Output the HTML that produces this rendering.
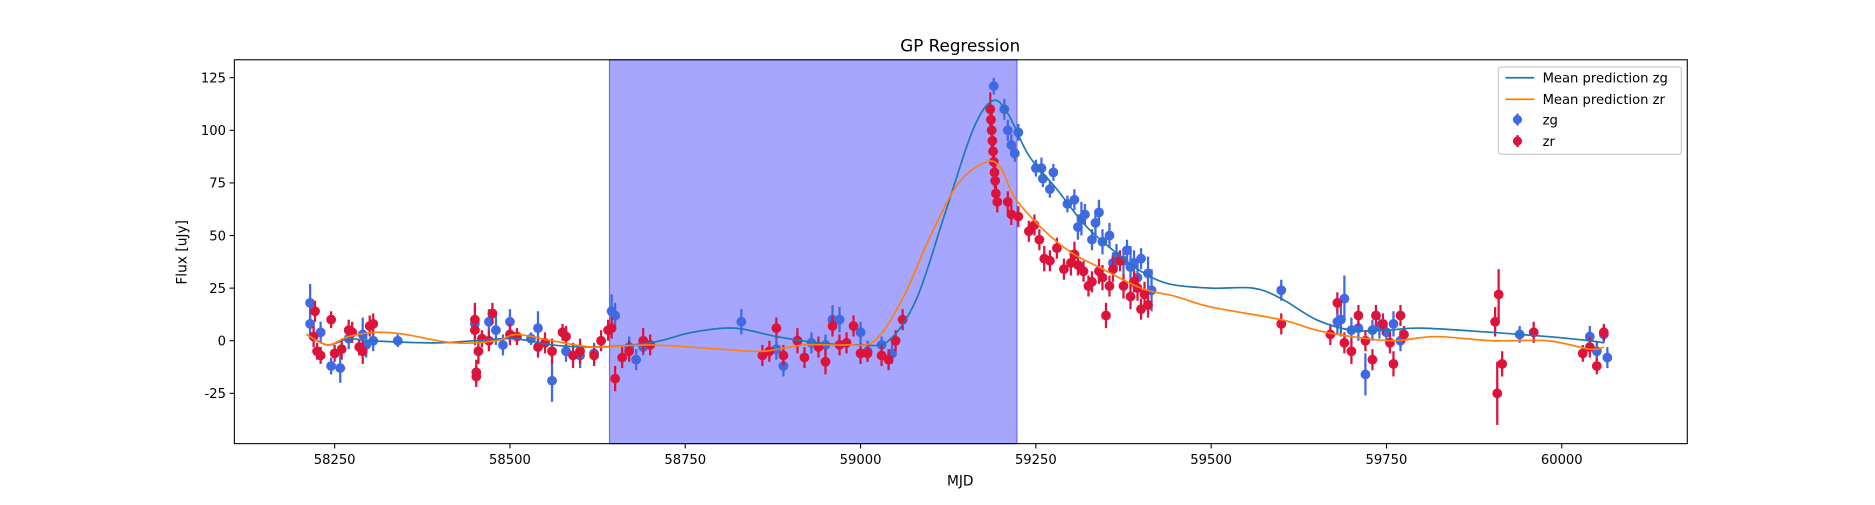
<!DOCTYPE html>
<html><head><meta charset="utf-8"><style>
body{margin:0;background:#fff;font-family:"Liberation Sans","DejaVu Sans",sans-serif;}
svg text{font-family:"DejaVu Sans","Liberation Sans",sans-serif;}
</style></head><body>
<svg id="chart" width="1875" height="500" xmlns="http://www.w3.org/2000/svg">
<rect x="0" y="0" width="1875" height="500" fill="#fff"/>
<g transform="scale(1.1958)">
<g id="plot"></g>
<text x="803" y="43" font-size="14" text-anchor="middle">GP Regression</text>
<text x="803" y="406" font-size="11.5" text-anchor="middle">MJD</text>
<text transform="translate(156,211) rotate(-90)" font-size="11.5" text-anchor="middle">Flux [uJy]</text>
<g>
<rect x="1253" y="56" width="153" height="73" fill="#fff" fill-opacity="0.8" stroke="#ccc" rx="2"/>
<g><line x1="1259" y1="65" x2="1283" y2="65" stroke="#1f77b4" stroke-width="1.5"/><text x="1290" y="69" font-size="11">Mean prediction zg</text></g>
<g><line x1="1259" y1="83" x2="1283" y2="83" stroke="#ff7f0e" stroke-width="1.5"/><text x="1290" y="87" font-size="11">Mean prediction zr</text></g>
<g><line x1="1269" y1="95" x2="1269" y2="105" stroke="#4169e1" stroke-width="2"/><circle cx="1269" cy="100" r="3.8" fill="#4169e1"/><text x="1290" y="104" font-size="11">zg</text></g>
<g><line x1="1269" y1="113" x2="1269" y2="123" stroke="#dc143c" stroke-width="2"/><circle cx="1269" cy="118" r="3.8" fill="#dc143c"/><text x="1290" y="122" font-size="11">zr</text></g>
</g>
</g>
</svg>
<script>
const xTicks=[58250,58500,58750,59000,59250,59500,59750,60000];
const yTicks=[-25,0,25,50,75,100,125];
const spanRange=[58642,59223];
const zgMean=[[58210,3],[58240,-2],[58270,1],[58300,0],[58400,-1],[58500,1],[58560,-2],[58620,-3],[58700,-1],[58760,4],[58820,6],[58880,2],[58940,-1],[59000,-2],[59040,0],[59080,20],[59120,60],[59160,100],[59188,114],[59210,108],[59240,88],[59280,72],[59320,55],[59360,43],[59400,33],[59440,27],[59500,25],[59560,25],[59600,20],[59650,10],[59700,5],[59750,5],[59800,6],[59900,4],[59980,2],[60040,0],[60060,-1]];
const zrMean=[[58210,3],[58240,-2],[58270,2],[58310,4],[58350,3],[58420,-1],[58480,0],[58510,3],[58560,0],[58620,-3],[58700,-2],[58800,-4],[58860,-5],[58920,-2],[58980,-2],[59020,0],[59060,20],[59100,50],[59140,75],[59180,85],[59200,82],[59220,68],[59260,53],[59300,42],[59340,35],[59400,25],[59450,21],[59500,16],[59600,10],[59650,5],[59700,2],[59760,0],[59820,2],[59900,0],[59980,0],[60040,-4],[60060,-3]];
const zgPts=[[58215,18,9],[58215,8,6],[58230,4,5],[58245,-12,4],[58258,-13,7],[58270,1,5],[58290,3,8],[58295,-2,6],[58305,0,5],[58340,0,3],[58450,8,8],[58470,9,6],[58480,5,7],[58490,-2,5],[58500,9,6],[58530,1,3],[58540,6,8],[58560,-19,10],[58580,-5,5],[58600,-7,6],[58620,-6,5],[58645,14,8],[58650,12,6],[58670,-3,5],[58680,-9,5],[58690,-3,4],[58830,9,6],[58880,-4,5],[58890,-12,5],[58910,0,4],[58930,-1,5],[58950,-2,5],[58960,10,7],[58970,10,6],[59000,4,5],[59010,-5,5],[59030,-2,4],[59045,-6,5],[59190,121,4],[59205,110,5],[59210,100,5],[59215,93,5],[59220,89,4],[59225,99,4],[59250,82,4],[59258,82,5],[59260,77,4],[59270,72,4],[59275,80,4],[59295,65,4],[59305,67,5],[59310,54,6],[59315,58,8],[59320,60,5],[59330,48,5],[59335,56,6],[59340,61,6],[59345,47,6],[59355,50,6],[59360,37,5],[59365,40,6],[59375,38,6],[59380,43,5],[59385,35,10],[59390,37,6],[59395,30,6],[59400,39,5],[59410,32,8],[59415,24,10],[59600,24,5],[59680,9,6],[59685,10,8],[59690,20,11],[59700,5,6],[59710,6,6],[59720,-16,10],[59730,5,5],[59740,7,6],[59750,4,4],[59760,8,6],[59770,0,5],[59940,3,4],[60040,2,5],[60050,-5,5],[60060,3,4],[60065,-8,5]];
const zrPts=[[58220,2,5],[58222,14,5],[58225,-5,4],[58230,-7,4],[58245,10,4],[58250,-6,4],[58260,-4,5],[58270,5,5],[58275,4,5],[58285,-3,4],[58290,-5,6],[58300,7,5],[58305,8,5],[58450,10,8],[58450,5,7],[58452,-15,6],[58452,-17,5],[58455,-5,6],[58460,1,4],[58470,0,5],[58475,13,5],[58500,3,5],[58510,2,4],[58540,-3,5],[58550,-1,5],[58560,-5,6],[58575,4,4],[58580,2,5],[58590,-7,6],[58600,-5,6],[58620,-7,5],[58630,0,5],[58640,5,5],[58645,6,5],[58650,-18,6],[58660,-8,5],[58670,-5,5],[58690,0,6],[58700,-2,5],[58860,-7,5],[58870,-5,5],[58880,6,5],[58890,-7,5],[58910,0,6],[58920,-8,5],[58940,-3,5],[58950,-10,6],[58960,7,5],[58970,-2,5],[58980,-1,5],[58990,7,5],[59000,-6,5],[59010,-6,4],[59030,-7,5],[59040,-9,5],[59050,0,5],[59060,10,5],[59185,110,8],[59186,105,7],[59187,100,10],[59188,95,7],[59189,90,6],[59190,85,6],[59191,80,7],[59192,76,7],[59193,70,6],[59195,66,5],[59210,66,5],[59215,60,5],[59225,59,5],[59240,52,5],[59248,55,5],[59255,48,5],[59262,39,6],[59270,38,5],[59280,44,5],[59290,34,5],[59300,37,6],[59305,41,6],[59310,36,5],[59318,33,5],[59325,26,5],[59330,28,5],[59340,33,6],[59345,30,6],[59350,12,6],[59355,26,5],[59360,34,6],[59370,38,5],[59375,26,6],[59385,21,6],[59390,28,5],[59395,25,6],[59400,15,5],[59405,22,6],[59410,17,6],[59600,8,5],[59670,3,5],[59680,18,5],[59690,-1,5],[59700,-5,6],[59710,12,5],[59720,0,5],[59730,-9,5],[59735,12,5],[59745,8,5],[59755,-1,5],[59760,-11,6],[59770,12,5],[59775,3,4],[59905,9,7],[59908,-25,15],[59910,22,12],[59915,-11,6],[59960,4,5],[60030,-6,4],[60050,-12,4],[60060,4,4],[60040,-3,5]];

const L=196,R=1411,T=50,B=371;
const xMin=58107,xMax=60179,yMin=-48.9,yMax=133.5;
const sx=v=>L+(v-xMin)/(xMax-xMin)*(R-L);
const sy=v=>B-(v-yMin)/(yMax-yMin)*(B-T);
const NS='http://www.w3.org/2000/svg';
const g=document.getElementById('plot');
function mk(t,a,p){const e=document.createElementNS(NS,t);for(const k in a)e.setAttribute(k,a[k]);(p||g).appendChild(e);return e;}

const span=mk('rect',{x:sx(spanRange[0]),y:T,width:sx(spanRange[1])-sx(spanRange[0]),height:B-T,fill:'#a6a6ff',stroke:'#6b6bf0','stroke-width':1});



function smooth(pts){
  const P=pts.map(p=>[sx(p[0]),sy(p[1])]);
  let d='M'+P[0][0]+','+P[0][1];
  for(let i=0;i<P.length-1;i++){
    const p0=P[Math.max(0,i-1)],p1=P[i],p2=P[i+1],p3=P[Math.min(P.length-1,i+2)];
    const c1=[p1[0]+(p2[0]-p0[0])/6,p1[1]+(p2[1]-p0[1])/6];
    const c2=[p2[0]-(p3[0]-p1[0])/6,p2[1]-(p3[1]-p1[1])/6];
    d+=' C'+c1[0]+','+c1[1]+' '+c2[0]+','+c2[1]+' '+p2[0]+','+p2[1];
  }
  return d;
}
function points(arr,color,name){
  const grp=mk('g',{});
  
  
  arr.forEach(p=>{
    mk('line',{x1:sx(p[0]),x2:sx(p[0]),y1:sy(p[1]-p[2]),y2:sy(p[1]+p[2]),stroke:color,'stroke-width':1.9},grp);
    const c=mk('circle',{cx:sx(p[0]),cy:sy(p[1]),r:4.1,fill:color},grp);
    
    
  });
}
points(zgPts,'#4169e1','zg-points');
points(zrPts,'#dc143c','zr-points');
const l1=mk('path',{d:smooth(zgMean),fill:'none',stroke:'#1f77b4','stroke-width':1.4});


const l2=mk('path',{d:smooth(zrMean),fill:'none',stroke:'#ff7f0e','stroke-width':1.4});



const fr=mk('rect',{x:L,y:T,width:R-L,height:B-T,fill:'none',stroke:'#000','stroke-width':0.9});


xTicks.forEach(v=>{
  mk('line',{x1:sx(v),x2:sx(v),y1:B,y2:B+4,stroke:'#000','stroke-width':0.9});
  const t=mk('text',{x:sx(v),y:B+17,'font-size':11,'text-anchor':'middle'});t.textContent=v;
  
  
});
yTicks.forEach(v=>{
  mk('line',{x1:L-4,x2:L,y1:sy(v),y2:sy(v),stroke:'#000','stroke-width':0.9});
  const t=mk('text',{x:L-7,y:sy(v)+4,'font-size':11,'text-anchor':'end'});t.textContent=v;
  
  
});
</script>
</body></html>
